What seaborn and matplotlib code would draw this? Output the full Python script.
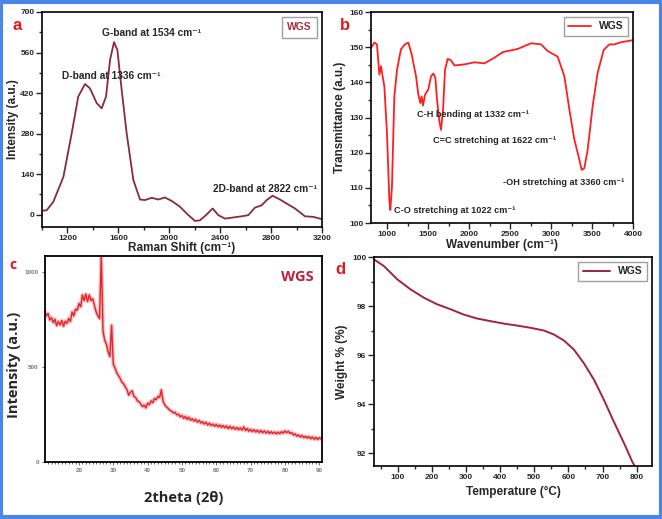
"""Four-panel characterisation figure of WGS: Raman, FTIR, XRD and TGA."""

import matplotlib as mpl
import matplotlib.pyplot as plt
import pandas as pd
import seaborn as sns
from matplotlib.patches import Rectangle
from matplotlib.ticker import MultipleLocator

mpl.use("Agg")
sns.set_style("ticks")
plt.rcParams["font.family"] = ["Liberation Sans", "DejaVu Sans"]
plt.rcParams["font.weight"] = "bold"
plt.rcParams["axes.labelweight"] = "bold"

# (a) Raman spectrum
RAMAN_SHIFT = [1000, 1037, 1089, 1168, 1233, 1285, 1338, 1377, 1430, 1469,
               1503, 1535, 1566, 1592, 1626, 1665, 1718, 1770, 1809, 1862,
               1914, 1966, 2019, 2084, 2150, 2202, 2241, 2288, 2341, 2385,
               2438, 2503, 2569, 2621, 2673, 2726, 2765, 2812, 2870, 2922,
               2988, 3066, 3132, 3200]
RAMAN_INT = [13, 15, 44, 130, 280, 408, 451, 436, 385, 367,
             408, 535, 596, 569, 431, 281, 119, 52, 50, 58,
             52, 59, 47, 27, -2, -22, -20, -2, 21, -2,
             -14, -10, -6, -2, 24, 32, 50, 65, 52, 38,
             21, -6, -8, -16]
RAMAN_NOTES = [("D-band at 1336 cm⁻¹", 1155, 479),
               ("G-band at 1534 cm⁻¹", 1469, 627),
               ("2D-band at 2822 cm⁻¹", 2346, 90)]

# (b) FTIR spectrum
WAVENUMBER = [800, 841, 873, 902, 922, 942, 963, 995, 1024, 1036,
              1056, 1085, 1118, 1166, 1215, 1256, 1297, 1350, 1378, 1403,
              1419, 1435, 1460, 1500, 1533, 1561, 1586, 1606, 1635, 1655,
              1680, 1704, 1737, 1778, 1819, 1941, 2063, 2185, 2307, 2409,
              2592, 2755, 2877, 2958, 3080, 3162, 3223, 3284, 3345, 3373,
              3406, 3446, 3507, 3568, 3642, 3711, 3772, 3854, 4000]
TRANSMITTANCE = [149.8, 151.3, 150.8, 142.2, 144.6, 141.7, 138.9, 125.6, 106.6, 103.7,
                 110.4, 136.0, 143.6, 149.4, 150.8, 151.3, 147.9, 141.7, 136.5, 134.1,
                 136.0, 133.4, 136.5, 138.0, 141.7, 142.5, 141.3, 135.1, 128.9, 126.5,
                 132.2, 143.6, 146.7, 146.2, 144.8, 145.1, 145.7, 145.4, 147.0, 148.6,
                 149.5, 151.1, 150.8, 148.9, 147.3, 141.7, 132.2, 123.7, 118.0, 115.1,
                 115.6, 120.8, 133.2, 142.7, 149.2, 150.8, 150.8, 151.4, 152.0]
FTIR_NOTES = [("C-H bending at 1332 cm⁻¹", 1362, 130.8),
              ("C=C stretching at 1622 cm⁻¹", 1553, 123.5),
              ("-OH stretching at 3360 cm⁻¹", 2408, 111.5),
              ("C-O stretching at 1022 cm⁻¹", 1085, 103.5)]

# (c) XRD pattern, one reading every 0.5 degree from 10 to 91
TWO_THETA = [10 + 0.5 * i for i in range(163)]
XRD_INT = [795, 770, 782, 748, 760, 735, 752, 718, 740, 722,
           745, 715, 742, 730, 756, 740, 790, 770, 805, 800,
           835, 818, 880, 850, 885, 845, 880, 850, 860, 825,
           790, 770, 755, 1090, 690, 640, 620, 580, 555, 720,
           515, 495, 470, 455, 440, 420, 412, 395, 380, 352,
           368, 375, 345, 340, 322, 318, 305, 292, 300, 285,
           310, 302, 322, 312, 335, 328, 345, 340, 380, 320,
           300, 290, 282, 272, 268, 258, 262, 248, 252, 238,
           245, 230, 240, 225, 236, 220, 228, 215, 225, 210,
           220, 205, 212, 200, 210, 195, 205, 192, 200, 188,
           198, 185, 195, 182, 192, 180, 190, 176, 188, 175,
           185, 172, 182, 170, 180, 168, 185, 166, 176, 162,
           172, 160, 170, 158, 168, 155, 166, 154, 164, 152,
           162, 150, 160, 150, 158, 148, 157, 149, 160, 152,
           164, 154, 162, 150, 155, 142, 148, 136, 142, 132,
           140, 128, 136, 126, 134, 122, 132, 120, 130, 118,
           128, 122, 130]

# (d) TGA curve
TEMPERATURE = [30, 59, 98, 137, 176, 215, 254, 293, 332, 372,
               411, 450, 489, 528, 557, 587, 616, 645, 675, 704,
               733, 763, 787, 812, 825]
WEIGHT = [99.90, 99.63, 99.09, 98.68, 98.34, 98.07, 97.87, 97.65, 97.49, 97.38,
          97.28, 97.20, 97.11, 97.00, 96.84, 96.59, 96.22, 95.67, 94.99, 94.17,
          93.28, 92.40, 91.65, 91.05, 90.80]

CALIBRI = ["Open Sans", "DejaVu Sans"]


def origin_axis(ax, lw=1.2):
    """Origin-like box with outward ticks."""
    for side in ax.spines.values():
        side.set_linewidth(lw)
        side.set_color("black")
        side.set_visible(True)
    ax.tick_params(which="both", direction="out", width=1, labelsize=6,
                   pad=1.5, top=False, right=False)
    ax.tick_params(which="major", length=4)
    ax.tick_params(which="minor", length=2.5)
    for lab in ax.get_xticklabels() + ax.get_yticklabels():
        lab.set_fontweight("bold")


def panel_letter(fig, x, y, s):
    fig.text(x / 662, 1 - y / 519, s, color="#e8141c", fontsize=12,
             fontweight="bold", va="center", ha="left")


def main():
    fig = plt.figure(figsize=(6.62, 5.19), dpi=100)

    # (a) Raman
    ax = fig.add_axes([42 / 662, 1 - 227 / 519, 280 / 662, 215 / 519])
    df = pd.DataFrame({"shift": RAMAN_SHIFT, "intensity": RAMAN_INT})
    sns.lineplot(data=df, x="shift", y="intensity", ax=ax, color="#8b2a3c",
                 lw=1.3, estimator=None, label="WGS")
    ax.set(xlim=(1000, 3200), ylim=(-43, 700))
    ax.set_xticks(range(1200, 3201, 400))
    ax.xaxis.set_minor_locator(MultipleLocator(200))
    ax.yaxis.set_major_locator(MultipleLocator(140))
    ax.yaxis.set_minor_locator(MultipleLocator(70))
    ax.set_xlabel("Raman Shift (cm⁻¹)", fontsize=8.5, labelpad=0)
    ax.set_ylabel("Intensity (a.u.)", fontsize=8.5, labelpad=1)
    for txt, x, y in RAMAN_NOTES:
        ax.text(x, y, txt, fontsize=7.3, fontweight="bold", va="center")
    leg = ax.legend(loc="upper right", handlelength=0, handletextpad=0,
                    fancybox=False, edgecolor="#888888", fontsize=7.5,
                    borderpad=0.5)
    for t in leg.get_texts():
        t.set_color("#a0303a")
        t.set_fontweight("bold")
    origin_axis(ax)
    panel_letter(fig, 12, 25, "a")

    # (b) FTIR
    ax = fig.add_axes([371 / 662, 1 - 223 / 519, 262 / 662, 211 / 519])
    df = pd.DataFrame({"wavenumber": WAVENUMBER, "transmittance": TRANSMITTANCE})
    sns.lineplot(data=df, x="wavenumber", y="transmittance", ax=ax,
                 color="#ff1f1f", lw=1.3, estimator=None, label="WGS")
    ax.set(xlim=(800, 4000), ylim=(100, 160))
    ax.set_xticks(range(1000, 4001, 500))
    ax.xaxis.set_minor_locator(MultipleLocator(250))
    ax.yaxis.set_major_locator(MultipleLocator(10))
    ax.yaxis.set_minor_locator(MultipleLocator(5))
    ax.set_xlabel("Wavenumber (cm⁻¹)", fontsize=8.5, labelpad=1)
    ax.set_ylabel("Transmittance (a.u.)", fontsize=8.5, labelpad=2)
    for txt, x, y in FTIR_NOTES:
        ax.text(x, y, txt, fontsize=6.6, fontweight="bold", va="center")
    leg = ax.legend(loc="upper right", handlelength=2.2, fancybox=False,
                    edgecolor="#888888", fontsize=7.5, borderpad=0.4)
    for t in leg.get_texts():
        t.set_fontweight("bold")
    origin_axis(ax)
    panel_letter(fig, 340, 25, "b")

    # (c) XRD
    ax = fig.add_axes([45 / 662, 1 - 462 / 519, 277 / 662, 206 / 519])
    df = pd.DataFrame({"two_theta": TWO_THETA, "intensity": XRD_INT})
    sns.lineplot(data=df, x="two_theta", y="intensity", ax=ax,
                 color="#efbfcc", lw=2.8, estimator=None)
    sns.lineplot(data=df, x="two_theta", y="intensity", ax=ax,
                 color="#e8241c", lw=1.0, estimator=None)
    ax.set(xlim=(10.1, 90.8), ylim=(0, 1085))
    ax.set_xticks(range(20, 91, 10))
    ax.xaxis.set_minor_locator(MultipleLocator(1))
    ax.set_yticks([0, 500, 1000])
    for side in ax.spines.values():
        side.set_linewidth(1.3)
        side.set_color("black")
    ax.tick_params(which="both", direction="out", width=0.6, labelsize=4.5,
                   pad=2, labelcolor="#777777", color="#555555")
    ax.tick_params(which="major", length=2.5)
    ax.tick_params(which="minor", length=1.5)
    ax.set_xlabel("2theta (2θ)", fontsize=10.5, family=CALIBRI)
    ax.set_ylabel("Intensity (a.u.)", fontsize=10.5, family=CALIBRI)
    ax.xaxis.set_label_coords(0.5, -0.14)
    ax.yaxis.set_label_coords(-0.085, 0.47)
    ax.text(0.97, 0.9, "WGS", transform=ax.transAxes, ha="right", va="center",
            color="#c0203a", fontsize=10.5, fontweight="bold", family=CALIBRI)
    fig.text(9 / 662, 1 - 265 / 519, "c", color="#e8141c", fontsize=10,
             fontweight="bold", va="center", family=CALIBRI)

    # (d) TGA
    ax = fig.add_axes([374 / 662, 1 - 466 / 519, 278 / 662, 209 / 519])
    df = pd.DataFrame({"temperature": TEMPERATURE, "weight": WEIGHT})
    sns.lineplot(data=df, x="temperature", y="weight", ax=ax,
                 color="#a3233f", lw=1.4, estimator=None, label="WGS")
    ax.set(xlim=(30, 845), ylim=(91.47, 100))
    ax.set_xticks(range(100, 801, 100))
    ax.xaxis.set_minor_locator(MultipleLocator(50))
    ax.set_yticks(range(92, 101, 2))
    ax.yaxis.set_minor_locator(MultipleLocator(1))
    ax.set_xlabel("Temperature (°C)", fontsize=8.5, labelpad=4)
    ax.set_ylabel("Weight % (%)", fontsize=8.5, labelpad=3)
    leg = ax.legend(loc="upper right", handlelength=2.6, fancybox=False,
                    edgecolor="#888888", fontsize=7.5, borderpad=0.4)
    for t in leg.get_texts():
        t.set_fontweight("bold")
    origin_axis(ax)
    panel_letter(fig, 335, 270, "d")

    # Blue frame around the whole figure
    fig.patches.append(Rectangle((0.002, 0.003), 0.996, 0.994,
                                 transform=fig.transFigure, fill=False,
                                 edgecolor="#4a86e8", lw=3))

    fig.savefig("out.png", dpi=100)
    plt.close(fig)


if __name__ == "__main__":
    main()
